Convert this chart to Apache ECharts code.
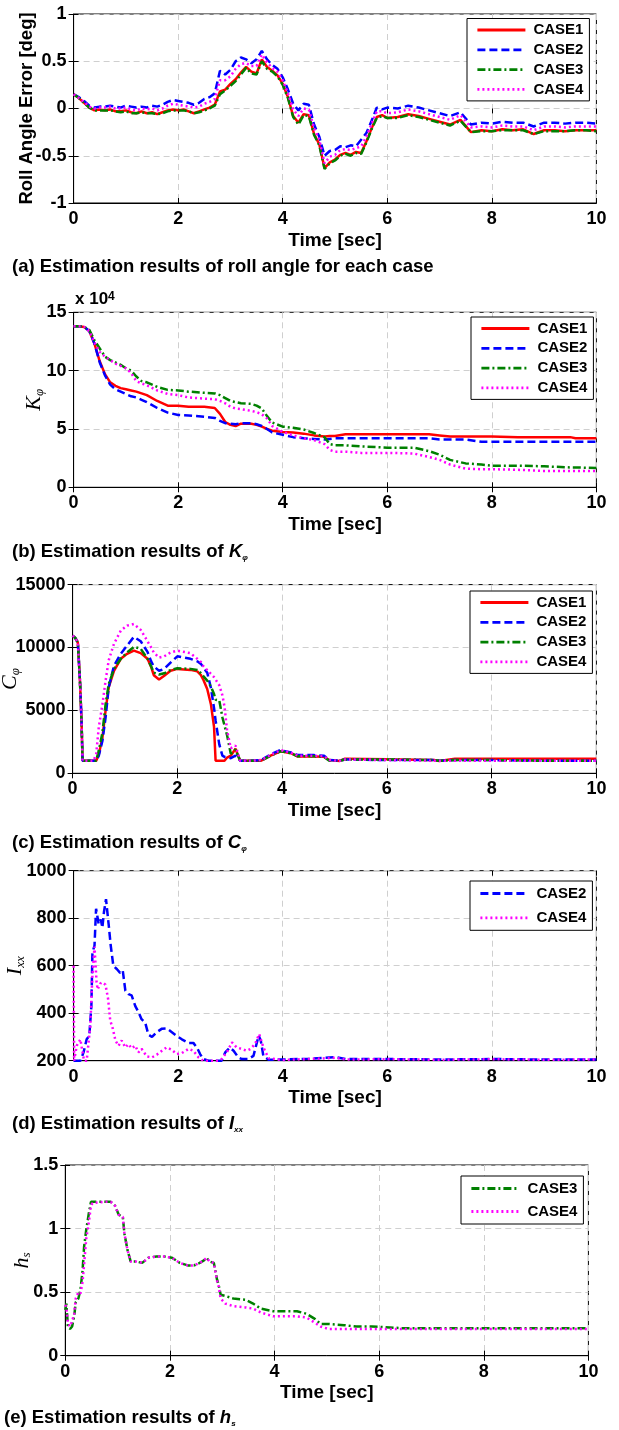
<!DOCTYPE html>
<html>
<head>
<meta charset="utf-8">
<script src="https://cdn.jsdelivr.net/npm/echarts@6/dist/echarts.min.js"></script>
<style>
html, body { margin: 0; padding: 0; background: #fff; }
#chart { width: 619px; height: 1430px; }
</style>
</head>
<body>
<div id="chart"></div>
<script>
// (a) roll angle error [deg]
var tA = [0,0.1,0.2,0.3,0.4,0.5,0.6,0.7,0.8,0.9,1,1.1,1.2,1.3,1.4,1.5,1.6,1.7,1.8,1.9,
  2,2.1,2.2,2.3,2.4,2.5,2.6,2.7,2.8,2.9,3,3.1,3.2,3.3,3.4,3.5,3.6,3.7,3.8,3.9,
  4,4.1,4.2,4.3,4.4,4.5,4.6,4.7,4.8,4.9,5,5.1,5.2,5.3,5.4,5.5,5.6,5.7,5.8,5.9,6,
  6.2,6.4,6.6,6.8,7,7.2,7.4,7.6,7.8,8,8.2,8.4,8.6,8.8,9,9.2,9.4,9.6,9.8,10];
var rollCase1 = [0.15,0.11,0.06,0.01,-0.02,-0.01,-0.02,-0.01,-0.03,-0.03,-0.02,-0.04,-0.05,-0.03,-0.05,-0.04,-0.06,-0.04,-0.02,-0.01,
  -0.02,-0.01,-0.03,-0.05,-0.03,-0.01,0.01,0.04,0.18,0.20,0.26,0.31,0.38,0.44,0.39,0.37,0.52,0.44,0.40,0.35,
  0.26,0.12,-0.08,-0.15,-0.06,-0.07,-0.27,-0.38,-0.63,-0.57,-0.54,-0.49,-0.47,-0.49,-0.46,-0.47,-0.35,-0.21,-0.09,-0.07,-0.10,
  -0.09,-0.06,-0.08,-0.11,-0.14,-0.17,-0.12,-0.25,-0.23,-0.24,-0.22,-0.23,-0.22,-0.27,-0.23,-0.23,-0.24,-0.23,-0.23,-0.23];
var rollCase2 = [0.15,0.12,0.08,0.03,0.01,0.02,0.02,0.03,0.02,0.01,0.03,0.02,0.01,0.02,0.01,0.03,0.02,0.04,0.07,0.09,
  0.08,0.07,0.06,0.04,0.06,0.10,0.12,0.16,0.40,0.36,0.41,0.50,0.54,0.52,0.48,0.52,0.61,0.52,0.46,0.42,
  0.33,0.20,0.05,-0.02,0.05,0.04,-0.17,-0.30,-0.50,-0.45,-0.44,-0.40,-0.41,-0.39,-0.40,-0.33,-0.26,-0.13,0.01,-0.01,0.01,
  0.00,0.03,0.01,-0.02,-0.05,-0.08,-0.04,-0.17,-0.15,-0.16,-0.14,-0.15,-0.15,-0.19,-0.15,-0.15,-0.16,-0.15,-0.15,-0.16];
var rollCase3 = [0.15,0.11,0.06,0.01,-0.02,-0.02,-0.02,-0.02,-0.03,-0.04,-0.03,-0.05,-0.05,-0.04,-0.05,-0.05,-0.06,-0.05,-0.03,-0.02,
  -0.02,-0.02,-0.03,-0.05,-0.04,-0.02,0.00,0.03,0.15,0.19,0.24,0.29,0.36,0.43,0.37,0.36,0.50,0.42,0.39,0.34,
  0.25,0.11,-0.09,-0.17,-0.07,-0.08,-0.28,-0.39,-0.64,-0.58,-0.55,-0.50,-0.48,-0.50,-0.47,-0.48,-0.36,-0.22,-0.10,-0.08,-0.10,
  -0.10,-0.07,-0.09,-0.12,-0.15,-0.18,-0.13,-0.25,-0.24,-0.24,-0.23,-0.23,-0.23,-0.27,-0.24,-0.24,-0.24,-0.23,-0.23,-0.24];
var rollCase4 = [0.15,0.11,0.07,0.02,0.00,0.01,0.01,0.02,0.00,0.00,0.01,-0.01,-0.02,0.00,-0.01,0.00,-0.02,0.00,0.03,0.05,
  0.04,0.03,0.02,0.01,0.02,0.05,0.07,0.10,0.30,0.30,0.34,0.42,0.47,0.48,0.45,0.45,0.57,0.49,0.43,0.39,
  0.30,0.16,-0.01,-0.08,0.00,-0.01,-0.21,-0.33,-0.58,-0.51,-0.49,-0.44,-0.43,-0.44,-0.42,-0.40,-0.30,-0.16,-0.03,-0.03,-0.05,
  -0.04,-0.01,-0.03,-0.06,-0.09,-0.12,-0.07,-0.20,-0.19,-0.20,-0.18,-0.19,-0.19,-0.23,-0.19,-0.19,-0.20,-0.19,-0.19,-0.19];

// (b) K_phi, in units of 10^4
var tB = [0,0.1,0.2,0.3,0.4,0.5,0.6,0.7,0.8,0.9,1,1.1,1.2,1.3,1.4,1.6,1.8,2,2.2,2.5,2.7,2.8,2.9,3,3.1,3.2,3.4,3.5,3.6,3.7,3.8,
  4,4.2,4.4,4.6,4.8,4.9,5,5.2,5.5,6,6.5,6.8,7,7.2,7.5,7.8,8,8.5,9,9.5,9.6,10];
var kCase1 = [13.8,13.8,13.75,13.4,12.3,10.8,9.7,9.0,8.7,8.5,8.4,8.3,8.2,8.05,7.9,7.4,7.0,7.0,6.9,6.9,6.8,6.3,5.6,5.35,5.25,5.45,5.45,5.35,5.2,5.0,4.85,
  4.75,4.7,4.6,4.45,4.35,4.4,4.4,4.55,4.55,4.55,4.55,4.55,4.45,4.35,4.35,4.35,4.35,4.3,4.3,4.3,4.2,4.2];
var kCase2 = [13.8,13.8,13.75,13.4,12.3,10.7,9.6,8.8,8.4,8.2,8.0,7.8,7.7,7.5,7.3,6.8,6.4,6.2,6.15,6.05,5.95,5.7,5.5,5.45,5.4,5.5,5.5,5.4,5.25,5.0,4.7,
  4.5,4.3,4.2,4.15,4.1,4.15,4.2,4.2,4.2,4.2,4.2,4.2,4.1,4.1,4.1,3.9,3.9,3.9,3.9,3.9,3.9,3.9];
var kCase3 = [13.8,13.8,13.75,13.5,12.6,11.9,11.2,10.9,10.7,10.5,10.2,10.0,9.5,9.1,9.0,8.6,8.35,8.3,8.2,8.1,8.05,7.9,7.65,7.4,7.3,7.2,7.15,7.0,6.75,6.1,5.55,
  5.2,5.1,4.95,4.65,4.3,3.7,3.6,3.6,3.5,3.4,3.4,3.1,2.8,2.35,2.05,1.95,1.85,1.85,1.8,1.7,1.7,1.65];
var kCase4 = [13.8,13.8,13.75,13.4,12.4,11.6,11.2,10.9,10.6,10.4,10.2,9.8,9.1,8.9,8.75,8.3,8.0,7.9,7.7,7.6,7.55,7.4,7.2,6.9,6.75,6.7,6.55,6.45,6.25,5.9,5.25,
  4.75,4.45,4.2,4.05,3.7,3.2,3.05,3.05,2.95,2.95,2.9,2.6,2.35,1.95,1.6,1.55,1.55,1.5,1.4,1.4,1.4,1.4];

// (c) C_phi
var tC = [0,0.05,0.1,0.14,0.17,0.19,0.3,0.4,0.45,0.5,0.57,0.63,0.69,0.79,0.92,1.04,1.17,1.3,1.43,1.5,
  1.55,1.65,1.75,1.87,2,2.25,2.38,2.45,2.5,2.57,2.64,2.7,2.73,2.8,2.86,2.9,2.95,3.02,3.05,3.11,
  3.15,3.2,3.4,3.6,3.78,3.97,4.17,4.3,4.6,4.8,4.9,5.1,5.2,6,6.9,7,7.3,8,9,10];
var cCase1 = [10950,10760,10400,7400,4200,1000,1000,1000,1000,1500,2850,5000,6850,8150,9100,9500,9750,9550,9100,8450,
  7800,7450,7750,8150,8300,8220,8100,7800,7400,6700,5500,3700,1000,1000,1000,1000,1250,1400,1400,1950,
  1500,1000,1000,1000,1400,1750,1600,1330,1330,1320,1060,980,1160,1110,1060,980,1160,1160,1160,1160];
var cCase2 = [10950,10760,10400,7400,4200,1000,1000,1000,1000,1400,2600,4450,6850,8550,9500,10150,10850,10500,9650,8900,
  8500,8150,8300,8800,9300,9100,8900,8700,8400,8000,6800,5200,4200,2300,1400,1300,1270,1200,1200,1400,
  1250,1000,1000,1050,1500,1850,1650,1450,1450,1400,1050,1000,1100,1050,1050,1000,1050,1050,1000,1000];
var cCase3 = [10950,10760,10400,7400,4200,1000,1000,1000,1000,1800,3250,5500,7100,8300,9100,9600,10050,9900,9100,8500,
  8000,7850,7950,8200,8350,8300,8220,7950,7700,7370,6900,6300,5850,5800,4450,3800,3000,1550,1550,1900,
  1500,1000,1000,1000,1400,1750,1600,1350,1350,1300,1000,1000,1100,1100,1050,1000,1050,1050,1000,1000];
var cCase4 = [10950,10760,10400,7400,4200,1000,1000,1000,1540,3660,5500,7370,9000,10300,11340,11740,11870,11400,10500,10000,
  9600,9200,9300,9600,9750,9550,9100,8850,8500,8200,7900,7650,7500,7000,6200,5300,3400,2000,1950,2200,
  1700,1000,1000,1050,1450,1850,1650,1400,1400,1350,1050,1000,1100,1050,1000,1000,1000,1000,1000,1000];

// (d) I_xx
var tD2 = [0,0.13,0.19,0.25,0.3,0.34,0.36,0.4,0.43,0.48,0.52,0.55,0.58,0.62,0.67,0.71,0.76,0.83,0.89,0.94,
  0.99,1.05,1.11,1.18,1.24,1.3,1.37,1.43,1.5,1.59,1.69,1.78,1.88,1.97,2.07,2.2,2.29,2.36,2.42,2.48,
  2.58,2.83,2.9,2.99,3.06,3.15,3.22,3.34,3.44,3.54,3.58,3.63,3.73,4,4.5,5,5.2,6,7,8,9,10];
var iCase2 = [200,200,235,290,305,430,655,685,840,775,795,760,825,880,775,685,600,585,570,580,
  495,480,475,430,405,375,360,310,300,320,335,336,320,305,290,275,275,255,228,207,
  200,200,235,255,242,214,207,207,220,305,285,220,204,205,208,215,207,207,205,207,205,205];
var tD4 = [0,0.01,0.06,0.13,0.16,0.2,0.25,0.32,0.36,0.4,0.44,0.46,0.51,0.55,0.61,0.66,0.7,0.75,0.8,0.86,
  0.92,0.99,1.05,1.11,1.18,1.24,1.3,1.4,1.5,1.59,1.69,1.78,1.88,1.97,2.07,2.2,2.29,2.39,2.48,2.77,
  2.83,2.93,3.03,3.12,3.22,3.31,3.38,3.47,3.55,3.63,3.73,4,4.5,5,5.2,6,7,8,9,10];
var iCase4 = [600,200,263,290,250,200,200,347,560,680,530,500,525,530,520,460,370,335,285,263,
  285,256,270,252,263,235,250,218,214,225,242,256,246,228,232,250,242,214,200,200,
  207,235,277,256,249,242,249,270,312,256,210,203,207,212,205,206,204,206,204,205];

// (e) h_s
var tE = [0,0.02,0.05,0.09,0.13,0.17,0.2,0.25,0.29,0.33,0.36,0.4,0.45,0.49,0.52,0.72,0.87,0.95,1.02,1.1,
  1.13,1.19,1.25,1.36,1.47,1.59,1.74,1.89,2.04,2.19,2.34,2.46,2.57,2.65,2.7,2.76,2.84,2.9,2.93,2.97,
  3.06,3.21,3.44,3.59,3.74,3.97,4.2,4.43,4.61,4.77,4.88,5.03,5.33,5.56,5.86,6.3,6.5,8,10];
var hCase3 = [0.36,0.41,0.23,0.21,0.23,0.31,0.42,0.45,0.52,0.67,0.86,0.99,1.12,1.21,1.21,1.21,1.21,1.18,1.11,1.09,
  0.96,0.83,0.74,0.74,0.73,0.77,0.78,0.78,0.77,0.73,0.71,0.71,0.73,0.75,0.77,0.74,0.73,0.60,0.56,0.48,
  0.47,0.45,0.44,0.41,0.37,0.35,0.35,0.35,0.33,0.29,0.25,0.25,0.24,0.23,0.23,0.22,0.215,0.215,0.215];
var hCase4 = [0.40,0.38,0.26,0.23,0.27,0.33,0.45,0.50,0.49,0.58,0.72,0.92,1.05,1.18,1.20,1.21,1.21,1.18,1.11,1.09,
  0.96,0.83,0.74,0.74,0.73,0.77,0.78,0.78,0.77,0.73,0.71,0.71,0.73,0.75,0.77,0.74,0.73,0.59,0.55,0.45,
  0.41,0.39,0.38,0.37,0.34,0.31,0.31,0.31,0.30,0.26,0.23,0.21,0.21,0.21,0.21,0.21,0.21,0.21,0.21];

var SANS = '"Liberation Sans", Arial, Helvetica, sans-serif';
var SERIF = '"Liberation Serif", "Times New Roman", serif';

var caseStyle = {
  CASE1: { color: '#ff0000', type: 'solid' },
  CASE2: { color: '#0000ff', type: [8, 4] },
  CASE3: { color: '#008000', type: [8, 3, 2, 3] },
  CASE4: { color: '#ff00ff', type: [2, 3] }
};

function zip(t, v) {
  return t.map(function (x, i) { return [x, v[i]]; });
}

function line(name, idx, t, v) {
  var s = caseStyle[name];
  return {
    name: name,
    type: 'line',
    xAxisIndex: idx,
    yAxisIndex: idx,
    data: zip(t, v),
    symbol: 'none',
    showSymbol: false,
    lineStyle: { color: s.color, width: 2.5, type: s.type },
    itemStyle: { color: s.color }
  };
}

// plot boxes, in pixels
var grids = [
  { left: 73.6, top: 14, width: 522.8, height: 189 },
  { left: 73.6, top: 312.3, width: 522.8, height: 175 },
  { left: 72.6, top: 584.6, width: 523.8, height: 188.7 },
  { left: 73.6, top: 870.7, width: 522.8, height: 190 },
  { left: 65.3, top: 1165, width: 523.1, height: 190.7 }
];

var gridLine = { show: true, lineStyle: { color: '#cfcfcf', type: [6, 4], width: 1 } };
var tickLabel = {
  fontFamily: SANS, fontWeight: 'bold', fontSize: 18, color: '#000', margin: 7,
  formatter: function (v) { return String(v); }
};

function xAx(idx) {
  return {
    gridIndex: idx, type: 'value', min: 0, max: 10, interval: 2,
    name: 'Time [sec]', nameLocation: 'middle', nameGap: 28, nameMoveOverlap: false,
    nameTextStyle: { fontFamily: SANS, fontWeight: 'bold', fontSize: 19, color: '#000' },
    axisLine: { onZero: false, lineStyle: { color: '#000', width: 1 } },
    axisTick: { inside: true, length: 5, lineStyle: { color: '#000' } },
    axisLabel: Object.assign({ showMinLabel: true, showMaxLabel: true }, tickLabel),
    splitLine: gridLine
  };
}

// tick marks only, for the top edge of a box
function xTop(idx) {
  return {
    gridIndex: idx, type: 'value', min: 0, max: 10, interval: 2, position: 'top',
    axisLine: { show: false }, axisLabel: { show: false }, splitLine: { show: false },
    axisTick: { inside: true, length: 5, lineStyle: { color: '#000' } }
  };
}

function yAx(idx, min, max, interval, name, gap, rich) {
  return {
    gridIndex: idx, type: 'value', min: min, max: max, interval: interval,
    name: name, nameLocation: 'middle', nameGap: gap, nameMoveOverlap: false,
    nameTextStyle: rich ? { rich: rich, color: '#000' }
      : { fontFamily: SANS, fontWeight: 'bold', fontSize: 18.5, color: '#000' },
    axisLine: { onZero: false, lineStyle: { color: '#000', width: 1 } },
    axisTick: { inside: true, length: 5, lineStyle: { color: '#000' } },
    axisLabel: tickLabel,
    splitLine: gridLine
  };
}

// tick marks only, for the right edge of a box
function yRight(idx, min, max, interval) {
  return {
    gridIndex: idx, type: 'value', min: min, max: max, interval: interval, position: 'right',
    axisLine: { show: false }, axisLabel: { show: false }, splitLine: { show: false },
    axisTick: { inside: true, length: 5, lineStyle: { color: '#000' } }
  };
}

function subRich() {
  return {
    m: { fontFamily: SERIF, fontStyle: 'italic', fontSize: 22, color: '#000' },
    s: { fontFamily: SERIF, fontStyle: 'italic', fontSize: 13, color: '#000', verticalAlign: 'bottom' }
  };
}

function legend(names, left, top, gap, pad) {
  return {
    data: names, orient: 'vertical', left: left, top: top,
    itemWidth: 48, itemHeight: 14, itemGap: gap,
    padding: pad, borderColor: '#000', borderWidth: 1, backgroundColor: '#fff',
    selectedMode: false,
    itemStyle: { opacity: 0 },
    lineStyle: { width: 2.8 },
    textStyle: { fontFamily: SANS, fontWeight: 'bold', fontSize: 15, color: '#000', padding: [0, 0, 0, 3] }
  };
}

var capRich = {
  n: { fontFamily: SANS, fontWeight: 'bold', fontSize: 18.5, fill: '#000' },
  k: { fontFamily: SANS, fontWeight: 'bold', fontStyle: 'italic', fontSize: 18.5, fill: '#000' },
  s: { fontFamily: SANS, fontWeight: 'bold', fontStyle: 'italic', fontSize: 8, fill: '#000', verticalAlign: 'bottom' }
};

function caption(x, y, text) {
  return {
    type: 'text', x: x, y: y,
    style: { text: text, rich: capRich, verticalAlign: 'middle', align: 'left',
      fontFamily: SANS, fontWeight: 'bold', fontSize: 18.5, fill: '#000' }
  };
}

var chart = echarts.init(document.getElementById('chart'));
chart.setOption({
  animation: false,
  backgroundColor: '#fff',
  grid: grids.map(function (g) {
    return Object.assign({ show: true, borderColor: '#000', borderWidth: 1, backgroundColor: 'transparent',
      containLabel: false, outerBoundsMode: 'none' }, g);
  }),
  xAxis: [xAx(0), xAx(1), xAx(2), xAx(3), xAx(4), xTop(0), xTop(1), xTop(2), xTop(3), xTop(4)],
  yAxis: [
    yAx(0, -1, 1, 0.5, 'Roll Angle Error [deg]', 37),
    yAx(1, 0, 15, 5, '{m|K}{s|φ}', 28, subRich()),
    yAx(2, 0, 15000, 5000, '{m|C}{s|φ}', 51, subRich()),
    yAx(3, 200, 1000, 200, '{m|I}{s|xx}', 47, subRich()),
    yAx(4, 0, 1.5, 0.5, '{m|h}{s|s}', 32, subRich()),
    yRight(0, -1, 1, 0.5),
    yRight(1, 0, 15, 5),
    yRight(2, 0, 15000, 5000),
    yRight(3, 200, 1000, 200),
    yRight(4, 0, 1.5, 0.5)
  ],
  legend: [
    legend(['CASE1', 'CASE2', 'CASE3', 'CASE4'], 467, 18.5, 4.8, [4, 6, 4, 9]),
    legend(['CASE1', 'CASE2', 'CASE3', 'CASE4'], 471, 317, 4.8, [4, 6, 4, 9]),
    legend(['CASE1', 'CASE2', 'CASE3', 'CASE4'], 470, 591, 4.8, [4, 6, 4, 9]),
    legend(['CASE2', 'CASE4'], 470, 881, 9.3, [5, 6, 5, 9]),
    legend(['CASE3', 'CASE4'], 461, 1176, 8, [5, 6, 5, 9])
  ],
  graphic: [
    caption(12, 267, '(a) Estimation results of roll angle for each case'),
    caption(12, 552, '{n|(b) Estimation results of }{k|K}{s|φ}'),
    caption(12, 843, '{n|(c) Estimation results of }{k|C}{s|φ}'),
    caption(12, 1124, '{n|(d) Estimation results of }{k|I}{s|xx}'),
    caption(4, 1418, '{n|(e) Estimation results of }{k|h}{s|s}'),
    {
      type: 'text', x: 75, y: 299,
      style: {
        text: '{a|x 10}{b|4}', verticalAlign: 'middle',
        rich: {
          a: { fontFamily: SANS, fontWeight: 'bold', fontSize: 17, fill: '#000' },
          b: { fontFamily: SANS, fontWeight: 'bold', fontSize: 12, fill: '#000', verticalAlign: 'top' }
        }
      }
    }
  ],
  series: [
    line('CASE1', 0, tA, rollCase1),
    line('CASE2', 0, tA, rollCase2),
    line('CASE3', 0, tA, rollCase3),
    line('CASE4', 0, tA, rollCase4),
    line('CASE1', 1, tB, kCase1),
    line('CASE2', 1, tB, kCase2),
    line('CASE3', 1, tB, kCase3),
    line('CASE4', 1, tB, kCase4),
    line('CASE1', 2, tC, cCase1),
    line('CASE2', 2, tC, cCase2),
    line('CASE3', 2, tC, cCase3),
    line('CASE4', 2, tC, cCase4),
    line('CASE2', 3, tD2, iCase2),
    line('CASE4', 3, tD4, iCase4),
    line('CASE3', 4, tE, hCase3),
    line('CASE4', 4, tE, hCase4)
  ]
});
</script>
</body>
</html>
